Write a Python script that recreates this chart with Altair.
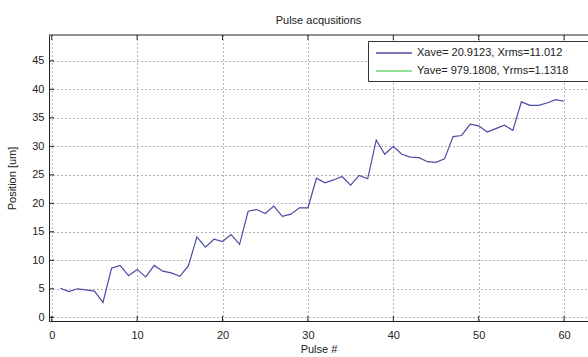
import altair as alt
import pandas as pd

# ---- data ----
pulse = list(range(1, 61))
x_position = [5.1, 4.5, 5.0, 4.8, 4.6, 2.6, 8.6, 9.1, 7.3, 8.4,
              7.1, 9.1, 8.1, 7.8, 7.2, 9.0, 14.1, 12.3, 13.7, 13.3,
              14.5, 12.8, 18.6, 18.9, 18.2, 19.5, 17.7, 18.1, 19.2, 19.2,
              24.4, 23.6, 24.1, 24.7, 23.2, 24.9, 24.3, 31.1, 28.6, 30.0,
              28.6, 28.1, 28.0, 27.3, 27.2, 27.8, 31.7, 31.9, 33.9, 33.6,
              32.5, 33.1, 33.7, 32.8, 37.8, 37.2, 37.2, 37.6, 38.2, 37.9]
series_labels = ["Xave= 20.9123, Xrms=11.012", "Yave= 979.1808, Yrms=1.1318"]
series_colors = ["#4b4ba3", "#6fd46f"]
x_ticks = [0, 10, 20, 30, 40, 50, 60]
y_ticks = [0, 5, 10, 15, 20, 25, 30, 35, 40, 45]
x_domain = [-0.32, 62.8]
y_domain = [-0.65, 49.53]

W, H = 539, 286
FONT = "Liberation Sans"
INK = "#222222"

df = pd.DataFrame({"Pulse": pulse, "Position": x_position, "series": series_labels[0]})
xt = pd.DataFrame({"Pulse": x_ticks})
yt = pd.DataFrame({"Position": y_ticks})

xscale = alt.Scale(domain=x_domain, nice=False, zero=False)
yscale = alt.Scale(domain=y_domain, nice=False, zero=False)

x_axis = alt.Axis(values=x_ticks, title="Pulse #", grid=True, gridDash=[1, 3],
                  gridColor="#666666", gridOpacity=1, ticks=False, tickSize=0,
                  labelPadding=8, titlePadding=3, domainColor=INK,
                  labelFlush=False, labelOverlap=False)
y_axis = alt.Axis(values=y_ticks, title="Position [um]", grid=True, gridDash=[1, 3],
                  gridColor="#666666", gridOpacity=1, ticks=False, tickSize=0,
                  labelPadding=5, titlePadding=14, domainColor=INK,
                  labelFlush=False, labelOverlap=False)

X = alt.X("Pulse:Q", scale=xscale, axis=x_axis)
Y = alt.Y("Position:Q", scale=yscale, axis=y_axis)

line = alt.Chart(df).mark_line(strokeWidth=1.2).encode(
    x=X, y=Y,
    color=alt.Color("series:N",
                    scale=alt.Scale(domain=series_labels, range=series_colors),
                    legend=alt.Legend(title=".", titleOrient="right", titlePadding=30,
                                      titleFontSize=11, titleOpacity=0,
                                      orient="none", legendX=319, legendY=6,
                                      symbolType="M-3,0H3", symbolSize=144,
                                      symbolStrokeWidth=1.3, symbolOffset=14,
                                      labelOffset=16, padding=5, rowPadding=6,
                                      strokeColor="#333333", fillColor="white",
                                      labelFontSize=11, labelFont=FONT, labelColor=INK,
                                      labelLimit=400, cornerRadius=0)),
)

top_frame = alt.Chart(pd.DataFrame({"a": [0]})).mark_rule(color=INK, strokeWidth=1).encode(
    x=alt.value(0), x2=alt.value(W + 5), y=alt.value(0))

bottom_ticks = alt.Chart(xt).mark_rule(color=INK, strokeWidth=1).encode(
    x=X, y=alt.value(H), y2=alt.value(H - 5))
top_ticks = alt.Chart(xt).mark_rule(color=INK, strokeWidth=1).encode(
    x=X, y=alt.value(0), y2=alt.value(5))
left_ticks = alt.Chart(yt).mark_rule(color=INK, strokeWidth=1).encode(
    y=Y, x=alt.value(0), x2=alt.value(5))

chart = alt.layer(line, top_frame, bottom_ticks, top_ticks, left_ticks).properties(
    width=W, height=H,
    padding={"left": 49, "top": 35, "right": 0, "bottom": 36},
    autosize=alt.AutoSizeParams(type="none"),
    title=alt.TitleParams("Pulse acqusitions", font=FONT, fontSize=11, fontWeight="normal",
                          color=INK, offset=9, anchor="middle"),
    background="white",
).configure_view(stroke=None).configure_axis(
    labelFont=FONT, labelFontSize=11, labelColor=INK,
    titleFont=FONT, titleFontSize=11, titleColor=INK, titleFontWeight="normal",
    domainWidth=1,
)

chart.save("out.html", embed_options={"renderer": "svg", "actions": False})
